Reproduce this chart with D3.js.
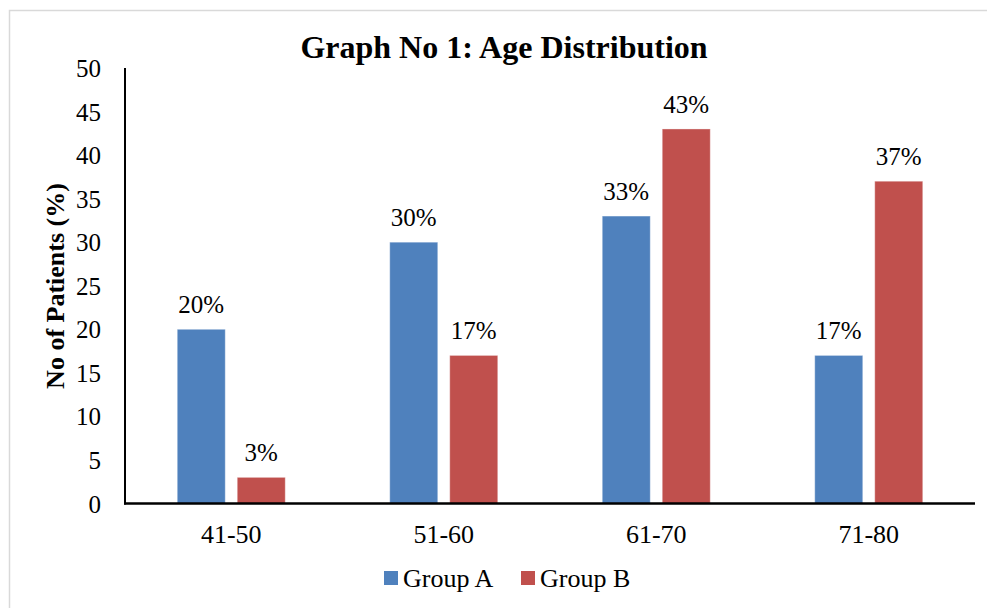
<!DOCTYPE html>
<html>
<head>
<meta charset="utf-8">
<script src="https://cdn.jsdelivr.net/npm/d3@7"></script>
<style>
  body { margin: 0; background: #fff; }
  svg { display: block; font-family: "Liberation Serif", "Times New Roman", serif; }
</style>
</head>
<body>
<svg width="987" height="608"></svg>
<script>
// chart data
var categories = ["41-50", "51-60", "61-70", "71-80"];
var groupA = [20, 30, 33, 17];
var groupB = [3, 17, 43, 37];
var seriesNames = ["Group A", "Group B"];
var yTicks = [0, 5, 10, 15, 20, 25, 30, 35, 40, 45, 50];

var colors = ["#4F81BD", "#C0504D"];

var svg = d3.select("svg");
var margin = {top: 68, left: 125, right: 12, bottom: 105};

// outer border
svg.append("rect")
    .attr("x", 9.5).attr("y", 10.5)
    .attr("width", 990).attr("height", 610)
    .style("fill", "none")
    .style("stroke", "#d9d9d9")
    .style("stroke-width", 1.5);

var y = d3.scaleLinear()
    .domain([0, 50])
    .range([503.5, margin.top]);

var x = d3.scaleBand()
    .domain(categories)
    .range([margin.left, 975])
    .paddingInner(0)
    .paddingOuter(0);

var barW = 48, gap = 12;

var g = svg.append("g");

// y tick labels
g.selectAll(".ytick")
    .data(yTicks)
    .enter()
    .append("text")
    .attr("x", 101)
    .attr("y", function(d) { return y(d) + 9; })
    .attr("text-anchor", "end")
    .style("font-size", "25px")
    .style("fill", "#000")
    .text(function(d) { return d; });

// bars
var series = [groupA, groupB];
series.forEach(function(vals, si) {
    g.selectAll(".bar" + si)
        .data(vals)
        .enter()
        .append("rect")
        .attr("x", function(d, i) {
            var c = x(categories[i]) + x.bandwidth() / 2;
            return si === 0 ? c - gap / 2 - barW : c + gap / 2;
        })
        .attr("y", function(d) { return y(d); })
        .attr("width", barW)
        .attr("height", function(d) { return y(0) - y(d); })
        .style("fill", colors[si])
        .style("stroke", "rgba(255,255,255,0.35)")
        .style("stroke-width", 1);

    g.selectAll(".lbl" + si)
        .data(vals)
        .enter()
        .append("text")
        .attr("x", function(d, i) {
            var c = x(categories[i]) + x.bandwidth() / 2;
            return si === 0 ? c - gap / 2 - barW / 2 : c + gap / 2 + barW / 2;
        })
        .attr("y", function(d) { return y(d) - 16; })
        .attr("text-anchor", "middle")
        .style("font-size", "25px")
        .text(function(d) { return d + "%"; });
});

// axes lines
g.append("line")
    .attr("x1", margin.left).attr("x2", margin.left)
    .attr("y1", y(50)).attr("y2", y(0) + 1)
    .style("stroke", "#000").style("stroke-width", 2);
g.append("line")
    .attr("x1", margin.left - 1).attr("x2", 975)
    .attr("y1", y(0)).attr("y2", y(0))
    .style("stroke", "#000").style("stroke-width", 2.5);

// x labels
g.selectAll(".xlab")
    .data(categories)
    .enter()
    .append("text")
    .attr("x", function(d) { return x(d) + x.bandwidth() / 2; })
    .attr("y", 543)
    .attr("text-anchor", "middle")
    .style("font-size", "26px")
    .text(function(d) { return d; });

// title
svg.append("text")
    .attr("x", 504).attr("y", 58)
    .attr("text-anchor", "middle")
    .style("font-size", "32px")
    .style("font-weight", "bold")
    .text("Graph No 1: Age Distribution");

// y axis title
svg.append("text")
    .attr("transform", "translate(64,286) rotate(-90)")
    .attr("text-anchor", "middle")
    .style("font-size", "26px")
    .style("font-weight", "bold")
    .text("No of Patients (%)");

// legend
var legX = [384, 521];
seriesNames.forEach(function(name, i) {
    svg.append("rect")
        .attr("x", legX[i]).attr("y", 571)
        .attr("width", 14).attr("height", 14)
        .style("fill", colors[i]);
    svg.append("text")
        .attr("x", legX[i] + 19).attr("y", 587)
        .style("font-size", "26px")
        .text(name);
});
</script>
</body>
</html>
